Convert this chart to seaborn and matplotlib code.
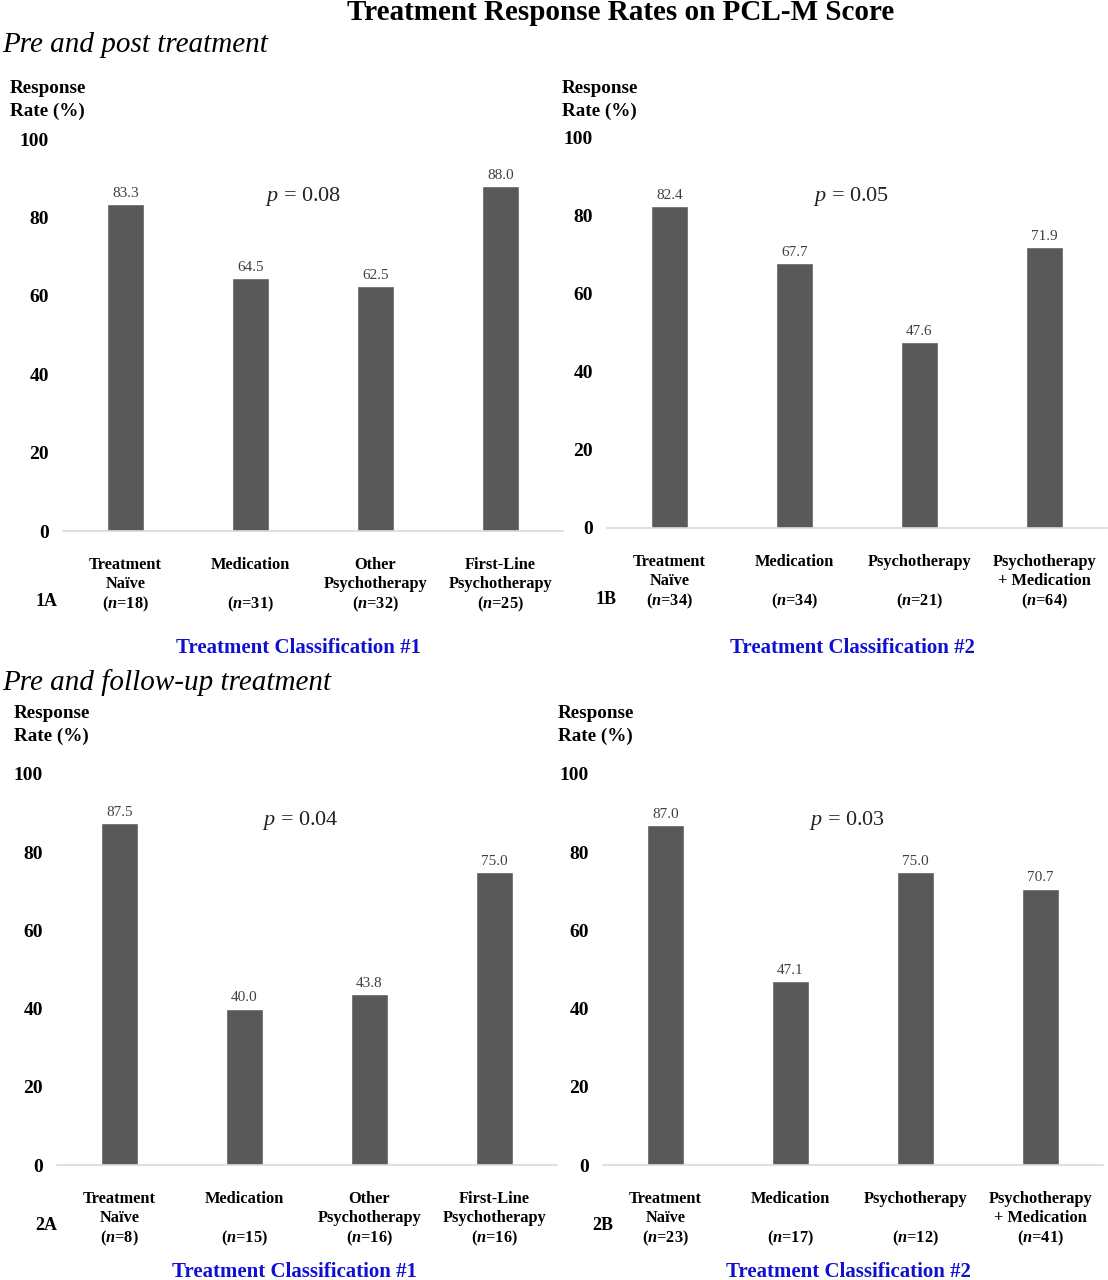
import matplotlib
matplotlib.use("Agg")
import matplotlib.pyplot as plt
import seaborn as sns
import pandas as pd

sns.set_theme(style="white")
plt.rcParams['font.family'] = ['Liberation Serif', 'DejaVu Serif']
plt.rcParams['text.color'] = 'black'
plt.rcParams['xtick.color'] = 'black'
plt.rcParams['ytick.color'] = 'black'
plt.rcParams['mathtext.fontset'] = 'custom'
plt.rcParams['mathtext.rm'] = 'Liberation Serif'
plt.rcParams['mathtext.it'] = 'Liberation Serif:italic'
plt.rcParams['mathtext.bf'] = 'Liberation Serif:bold'
plt.rcParams['mathtext.bfit'] = 'Liberation Serif:italic:bold'

# data
cats_1 = ["Treatment\nNaïve", "Medication\n", "Other\nPsychotherapy", "First-Line\nPsychotherapy"]
cats_2 = ["Treatment\nNaïve", "Medication\n", "Psychotherapy\n", "Psychotherapy\n+ Medication"]

n_1a = [18, 31, 32, 25]
rate_1a = [83.3, 64.5, 62.5, 88.0]
p_1a = "0.08"

n_1b = [34, 34, 21, 64]
rate_1b = [82.4, 67.7, 47.6, 71.9]
p_1b = "0.05"

n_2a = [8, 15, 16, 16]
rate_2a = [87.5, 40.0, 43.8, 75.0]
p_2a = "0.04"

n_2b = [23, 17, 12, 41]
rate_2b = [87.0, 47.1, 75.0, 70.7]
p_2b = "0.03"

W, H = 1108, 1280
fig = plt.figure(figsize=(W / 100, H / 100), dpi=100)

BAR = "#595959"
BLUE = "#1010d0"


def px_axes(left, top, right, bottom):
    return fig.add_axes([left / W, 1 - bottom / H, (right - left) / W, (bottom - top) / H])


def panel(box, cats, ns, rates, pval, tag, cls, ylab_xy, p_xy, cls_xy, tag_xy):
    ax = px_axes(*box)
    labels = [f"{c}\n($\\mathbfit{{n}}$={n})" for c, n in zip(cats, ns)]
    df = pd.DataFrame({"cat": labels, "rate": rates})
    sns.barplot(data=df, x="cat", y="rate", color=BAR, saturation=1, width=0.3, ax=ax)
    ax.set_ylim(0, 100)
    ax.set_xlim(-0.5, 3.5)
    ax.set_yticks([0, 20, 40, 60, 80, 100])
    ax.set_xlabel("")
    ax.set_ylabel("")
    for s in ["top", "right", "left"]:
        ax.spines[s].set_visible(False)
    ax.spines["bottom"].set_color("#d9d9d9")
    ax.spines["bottom"].set_linewidth(1.2)
    ax.tick_params(axis="y", length=0, pad=10, labelsize=14)
    ax.tick_params(axis="x", length=0, pad=19, labelsize=11.8)
    for t in ax.get_yticklabels():
        t.set_fontweight("bold")
    for t in ax.get_xticklabels():
        t.set_fontweight("bold")
        t.set_linespacing(1.22)
    for i, v in enumerate(rates):
        ax.annotate(f"{v:.1f}", (i, v), xytext=(0, 3), textcoords="offset points",
                    ha="center", va="bottom", fontsize=11, color="#404040")
    fig.text(ylab_xy[0] / W, 1 - ylab_xy[1] / H, "Response\nRate (%)", fontsize=13.8,
             fontweight="bold", ha="left", va="top", linespacing=1.4)
    fig.text(p_xy[0] / W, 1 - (p_xy[1] + 3) / H, f"$\\mathit{{p}}$ = {pval}", fontsize=16,
             ha="center", va="center", color="#222222")
    fig.text(cls_xy[0] / W, 1 - cls_xy[1] / H, cls, fontsize=15, fontweight="bold",
             color=BLUE, ha="center", va="center")
    fig.text(tag_xy[0] / W, 1 - tag_xy[1] / H, tag, fontsize=13, fontweight="bold",
             ha="center", va="center")
    return ax


panel((63, 139, 563, 531), cats_1, n_1a, rate_1a, p_1a, "1A", "Treatment Classification #1",
      (10, 80), (303, 193), (298, 648), (47, 601))
panel((607, 137, 1107, 528), cats_2, n_1b, rate_1b, p_1b, "1B", "Treatment Classification #2",
      (562, 80), (851, 193), (852, 648), (606, 600))
panel((57, 774, 557, 1165), cats_1, n_2a, rate_2a, p_2a, "2A", "Treatment Classification #1",
      (14, 705), (300, 818), (294, 1272), (46, 1226))
panel((603, 774, 1103, 1165), cats_2, n_2b, rate_2b, p_2b, "2B", "Treatment Classification #2",
      (558, 705), (847, 818), (848, 1272), (603, 1226))

fig.text(621 / W, 1 - 12 / H, "Treatment Response Rates on PCL-M Score", fontsize=21,
         fontweight="bold", ha="center", va="center")
fig.text(2 / W, 1 - 45 / H, "Pre and post treatment", fontsize=21, fontstyle="italic",
         ha="left", va="center")
fig.text(2 / W, 1 - 683 / H, "Pre and follow-up treatment", fontsize=21, fontstyle="italic",
         ha="left", va="center")

fig.savefig("out.png", dpi=100)
